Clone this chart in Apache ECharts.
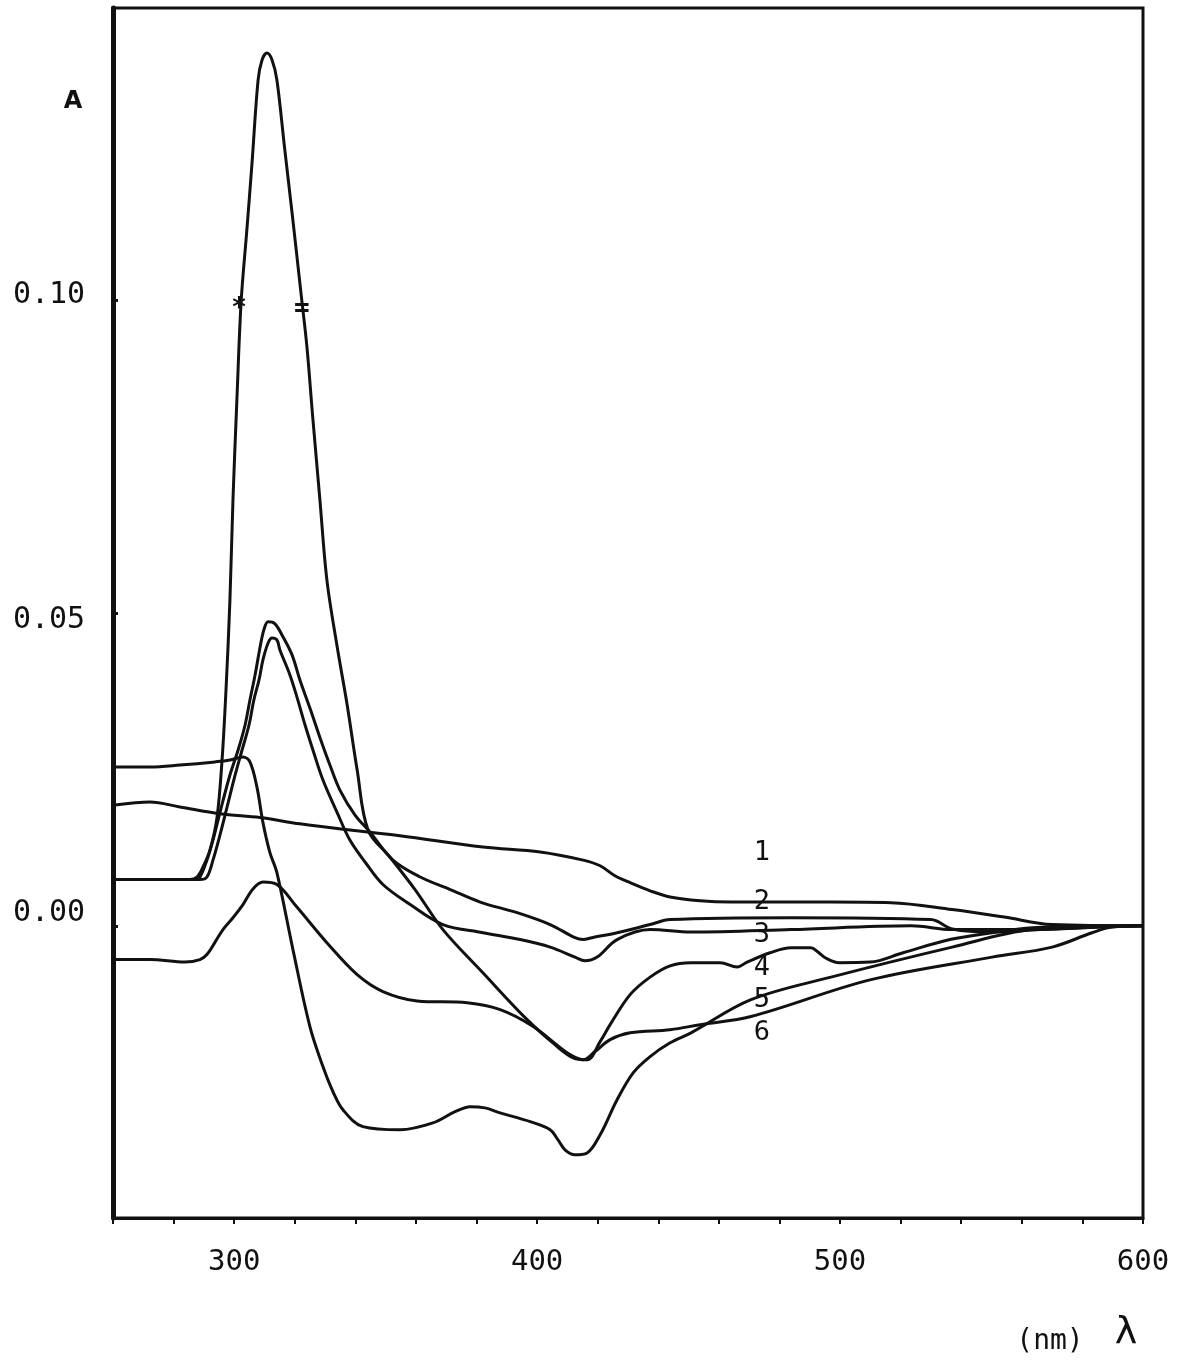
<!DOCTYPE html>
<html>
<head>
<meta charset="utf-8">
<title>A vs wavelength</title>
<script src="https://cdn.jsdelivr.net/npm/echarts@6/dist/echarts.min.js"></script>
<style>
  html, body { margin: 0; padding: 0; background: #fff; }
  #main { width: 1183px; height: 1363px; }
</style>
</head>
<body>
<div id="main"></div>
<script>
// [wavelength nm, absorbance]
var curve1 = [[260.7,0.0193],[272.2,0.0198],[282.1,0.0190],[295.3,0.0179],[308.5,0.0173],[321.7,0.0163],[338.2,0.0153],[354.7,0.0144],[382.1,0.0126],[401.0,0.0118],[415.2,0.0105],[420.8,0.0096],[425.7,0.0080],[430.7,0.0069],[437.3,0.0056],[443.9,0.0046],[453.8,0.0040],[464.0,0.0038],[497.0,0.0038],[516.8,0.0037],[537.0,0.0026],[554.2,0.0014],[570.0,0.0002],[600,0]];
var curve2 = [[260.7,0.0074],[287.1,0.0074],[288.7,0.0078],[291.0,0.0105],[293.0,0.0137],[295.3,0.0181],[298.6,0.0241],[301.3,0.0281],[303.6,0.0321],[305.2,0.0361],[306.9,0.0401],[308.5,0.0444],[309.8,0.0473],[311.2,0.0486],[313.4,0.0483],[316.1,0.0462],[319.1,0.0433],[321.7,0.0393],[325.0,0.0348],[328.3,0.0301],[331.6,0.0257],[334.9,0.0217],[339.9,0.0177],[344.8,0.0150],[352.4,0.0105],[361.4,0.0078],[371.3,0.0058],[381.2,0.0038],[393.4,0.0021],[404.3,0.0002],[412.5,-0.0019],[415.2,-0.0022],[418.1,-0.0019],[426.4,-0.0011],[437.3,0.0002],[443.9,0.0010],[483.8,0.0013],[530.0,0.0010],[537.0,-0.0005],[550.2,-0.0010],[566.0,-0.0006],[585.8,-0.0002],[600,0]];
var curve3 = [[260.7,0.0074],[288.7,0.0074],[291.0,0.0078],[293.0,0.0105],[295.3,0.0145],[297.6,0.0189],[300.3,0.0241],[302.6,0.0281],[304.9,0.0321],[306.5,0.0361],[308.2,0.0393],[309.5,0.0425],[311.2,0.0452],[312.5,0.0460],[314.1,0.0457],[315.1,0.0441],[318.4,0.0401],[320.7,0.0366],[323.4,0.0321],[326.0,0.0281],[329.3,0.0233],[334.0,0.0181],[338.2,0.0137],[343.2,0.0102],[349.1,0.0066],[358.1,0.0034],[368.9,0.0002],[382.1,-0.0011],[394.4,-0.0022],[404.3,-0.0034],[412.5,-0.0050],[415.8,-0.0056],[419.8,-0.0050],[426.4,-0.0022],[437.3,-0.0006],[450.8,-0.0010],[483.8,-0.0006],[523.5,0.0000],[537.0,-0.0006],[563.4,-0.0006],[585.8,-0.0002],[600,0]];
var curve4 = [[260.7,0.0074],[285.4,0.0074],[287.7,0.0078],[289.7,0.0094],[292.0,0.0121],[294.3,0.0172],[296.0,0.0265],[297.3,0.0377],[298.6,0.0521],[299.6,0.0681],[300.9,0.0841],[302.3,0.0998],[304.2,0.1113],[305.9,0.1220],[307.9,0.1352],[309.2,0.1384],[310.8,0.1395],[312.5,0.1384],[314.1,0.1352],[316.6,0.1245],[319.1,0.1140],[322.2,0.1005],[324.0,0.0926],[326.0,0.0809],[328.3,0.0681],[330.6,0.0553],[334.0,0.0446],[337.3,0.0353],[340.6,0.0249],[344.2,0.0153],[351.4,0.0110],[359.7,0.0058],[368.9,-0.0006],[382.1,-0.0075],[396.7,-0.0150],[405.9,-0.0190],[411.9,-0.0211],[416.5,-0.0214],[420.8,-0.0185],[424.1,-0.0158],[430.7,-0.0110],[437.3,-0.0082],[443.9,-0.0064],[450.8,-0.0059],[460.4,-0.0059],[466.0,-0.0066],[469.3,-0.0058],[476.9,-0.0043],[483.8,-0.0035],[490.4,-0.0035],[492.7,-0.0042],[495.1,-0.0051],[499.7,-0.0059],[509.9,-0.0058],[520.8,-0.0043],[536.3,-0.0022],[550.2,-0.0011],[563.4,-0.0003],[600,0]];
var curve5 = [[260.7,0.0254],[272.2,0.0254],[282.1,0.0257],[293.7,0.0262],[298.6,0.0265],[302.9,0.0270],[305.2,0.0262],[307.5,0.0222],[309.5,0.0165],[311.8,0.0117],[314.1,0.0085],[319.4,-0.0038],[325.0,-0.0161],[329.3,-0.0225],[332.6,-0.0265],[335.9,-0.0294],[342.5,-0.0321],[354.7,-0.0326],[365.6,-0.0315],[372.9,-0.0297],[377.9,-0.0289],[382.8,-0.0291],[387.8,-0.0299],[397.7,-0.0313],[404.3,-0.0326],[406.9,-0.0342],[409.2,-0.0358],[412.5,-0.0366],[416.5,-0.0363],[420.8,-0.0334],[426.4,-0.0278],[431.7,-0.0235],[437.3,-0.0209],[443.9,-0.0187],[450.8,-0.0171],[470.6,-0.0118],[497.0,-0.0082],[537.0,-0.0034],[563.4,-0.0006],[600,0]];
var curve6 = [[260.7,-0.0054],[272.2,-0.0054],[283.8,-0.0058],[288.7,-0.0054],[291.0,-0.0046],[293.7,-0.0026],[296.3,-0.0006],[299.6,0.0013],[302.9,0.0034],[306.2,0.0059],[309.5,0.0070],[314.1,0.0066],[320.7,0.0030],[330.6,-0.0027],[340.6,-0.0078],[349.1,-0.0105],[360.4,-0.0120],[376.9,-0.0123],[387.8,-0.0134],[398.7,-0.0161],[409.9,-0.0203],[415.2,-0.0214],[419.1,-0.0201],[424.1,-0.0182],[430.7,-0.0171],[443.9,-0.0166],[453.8,-0.0158],[470.6,-0.0145],[510.2,-0.0086],[550.2,-0.0050],[570.0,-0.0034],[583.2,-0.0011],[589.8,-0.0002],[600,0]];

var curveNames = ['1', '2', '3', '4', '5', '6'];
var yTickValues = [0, 0.05, 0.10];
var yTickLabels = ['0.00', '0.05', '0.10'];
var xLabelValues = [300, 400, 500, 600];
// pen marks on the big peak at A = 0.10
var peakMarks = [[301.6, 0.0985, '*'], [322.3, 0.0985, '=']];

var monoFont = 'DejaVu Sans Mono';
var ink = '#111';

// where the numbers 1..6 were written next to the curves (pixels)
var namePos = [[762, 853], [762, 902], [762, 935], [762, 968], [762, 1000], [762, 1033]];

var curves = [curve1, curve2, curve3, curve4, curve5, curve6];
var series = curves.map(function (d, i) {
  var s = {
    name: curveNames[i],
    type: 'line',
    data: d,
    showSymbol: false,
    smooth: 0.35,
    silent: true,
    lineStyle: { color: ink, width: 3 },
    z: 3
  };
  if (i === 3) {
    s.markPoint = {
      symbol: 'circle',
      symbolSize: 1,
      itemStyle: { color: 'rgba(0,0,0,0)' },
      label: { show: true, position: 'inside', formatter: '{b}', color: ink, fontSize: 26, fontWeight: 'bold', fontFamily: monoFont },
      data: peakMarks.map(function (m) { return { coord: [m[0], m[1]], name: m[2] }; })
    };
  }
  return s;
});

var labelText = namePos.map(function (p, i) {
  return {
    type: 'text',
    x: p[0], y: p[1],
    style: { text: curveNames[i], font: '27px ' + monoFont, fill: ink, align: 'center', verticalAlign: 'middle' }
  };
});

var myChart = echarts.init(document.getElementById('main'));

var option = {
  backgroundColor: '#fff',
  animation: false,
  grid: { left: 113, right: 40, top: 8, bottom: 145, show: true, borderColor: ink, borderWidth: 3, backgroundColor: 'transparent' },
  xAxis: {
    type: 'value',
    min: 260,
    max: 600,
    interval: 20,
    splitLine: { show: false },
    axisLine: { onZero: false, lineStyle: { color: ink, width: 3 } },
    axisTick: { length: 6, lineStyle: { color: ink, width: 2 } },
    axisLabel: {
      customValues: xLabelValues,
      margin: 30,
      color: ink,
      fontSize: 29,
      fontFamily: monoFont
    }
  },
  yAxis: {
    type: 'value',
    min: -0.0467,
    max: 0.1467,
    splitLine: { show: false },
    axisLine: { show: true, onZero: false, lineStyle: { color: ink, width: 5 } },
    axisTick: { show: true, customValues: yTickValues, length: 5, inside: true, lineStyle: { color: ink, width: 3 } },
    axisLabel: {
      customValues: yTickValues,
      margin: 64,
      align: 'center',
      color: ink,
      fontSize: 30,
      fontFamily: monoFont,
      formatter: function (v) {
        var i = yTickValues.indexOf(v);
        var key = ['z', 'f', 't'][i];
        return '{' + key + '|' + yTickLabels[i] + '}';
      },
      rich: {
        t: { fontSize: 30, fontFamily: monoFont, color: ink, padding: [0, 0, 10, 0] },
        f: { fontSize: 30, fontFamily: monoFont, color: ink, padding: [14, 0, 0, 0] },
        z: { fontSize: 30, fontFamily: monoFont, color: ink, padding: [0, 0, 26, 0] }
      }
    }
  },
  graphic: [
    { type: 'text', x: 73, y: 102, style: { text: 'A', font: 'bold 24px DejaVu Sans', fill: ink, align: 'center', verticalAlign: 'middle' } },
    { type: 'text', x: 1050, y: 1342, style: { text: '(nm)', font: '28px ' + monoFont, fill: ink, align: 'center', verticalAlign: 'middle' } },
    { type: 'text', x: 1126, y: 1333, style: { text: 'λ', font: '38px DejaVu Sans', fill: ink, align: 'center', verticalAlign: 'middle' } }
  ].concat(labelText),
  series: series
};

myChart.setOption(option);
</script>
</body>
</html>
